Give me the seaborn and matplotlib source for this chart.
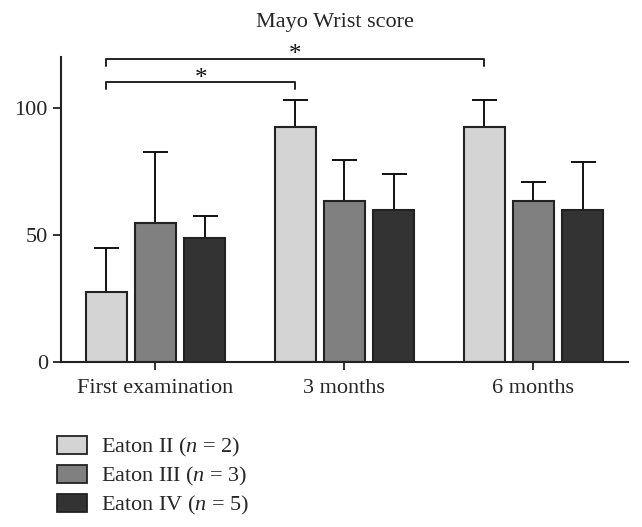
import numpy as np
import pandas as pd
import seaborn as sns
import matplotlib.pyplot as plt
from matplotlib.patches import Patch

# values
GROUPS = ["First examination", "3 months", "6 months"]
SERIES = ["Eaton II ($n$ = 2)", "Eaton III ($n$ = 3)", "Eaton IV ($n$ = 5)"]
EATON_II = [27.6, 92.4, 92.4]
EATON_III = [54.9, 63.4, 63.4]
EATON_IV = [48.9, 60.0, 60.0]
SD_II = [17.5, 10.6, 10.6]
SD_III = [27.8, 15.9, 7.4]
SD_IV = [8.4, 14.1, 18.9]
COLORS = ["#d4d4d4", "#808080", "#333333"]

# significance brackets: (group index a, group index b, y level)
BRACKETS = [(0, 1, 110), (0, 2, 119.3)]

sns.set_theme(style="ticks")
plt.rcParams["font.family"] = ["Liberation Serif", "DejaVu Serif"]
plt.rcParams["mathtext.fontset"] = "custom"
plt.rcParams["mathtext.it"] = "Liberation Serif:italic"
plt.rcParams["mathtext.rm"] = "Liberation Serif"

rows = []
for name, vals, sds in zip(SERIES, [EATON_II, EATON_III, EATON_IV], [SD_II, SD_III, SD_IV]):
    for g, v, s in zip(GROUPS, vals, sds):
        rows.append({"group": g, "series": name, "value": v, "sd": s})
df = pd.DataFrame(rows)

fig = plt.figure(figsize=(6.42, 5.27), dpi=100)
ax = fig.add_axes([0.095, 0.3125, 0.883, 0.5795])

sns.barplot(
    data=df,
    x="group",
    y="value",
    hue="series",
    order=GROUPS,
    hue_order=SERIES,
    palette=COLORS,
    width=0.78,
    gap=0.16,
    errorbar=None,
    edgecolor="#222222",
    linewidth=1.5,
    legend=False,
    ax=ax,
)

# upper-only error bars, positioned from the drawn bars
bars = [p for p in ax.patches if p.get_height() > 0]
centers = {}
for i, (name, sds) in enumerate(zip(SERIES, [SD_II, SD_III, SD_IV])):
    for j in range(len(GROUPS)):
        p = bars[i * len(GROUPS) + j]
        xc = p.get_x() + p.get_width() / 2
        h = p.get_height()
        centers[(i, j)] = xc
        ax.errorbar(
            xc, h, yerr=[[0], [sds[j]]], fmt="none", ecolor="#111111",
            elinewidth=1.4, capsize=9, capthick=1.4, zorder=1,
        )
for p in bars:
    p.set_zorder(2)

for a, b, y in BRACKETS:
    x0, x1 = centers[(0, a)], centers[(0, b)]
    ax.plot([x0, x0, x1, x1], [y - 2.8, y, y, y - 2.8], color="#222222",
            lw=1.4, clip_on=False)
    ax.text((x0 + x1) / 2, y - 0.9, "*", ha="center", va="baseline",
            fontsize=18, clip_on=False, color="#111111")

ax.set_xlim(-0.5, 2.5)
ax.set_ylim(0, 120)
ax.set_yticks([0, 50, 100])
ax.set_xlabel("")
ax.set_ylabel("")
ax.tick_params(axis="both", labelsize=16, length=6, width=1.3, color="#222222")
ax.tick_params(axis="x", pad=6)
for s in ["left", "bottom"]:
    ax.spines[s].set_linewidth(1.5)
    ax.spines[s].set_color("#222222")
sns.despine(ax=ax)

fig.text(0.522, 0.958, "Mayo Wrist score", ha="center", va="center", fontsize=16)

handles = [Patch(facecolor=c, edgecolor="#222222", linewidth=1.3) for c in COLORS]
fig.legend(
    handles, SERIES, loc="upper left", bbox_to_anchor=(0.075, 0.19),
    frameon=False, fontsize=16, handlelength=1.35, handleheight=0.9,
    labelspacing=0.25, handletextpad=0.65, borderaxespad=0,
)

fig.savefig("out.png", dpi=100)
